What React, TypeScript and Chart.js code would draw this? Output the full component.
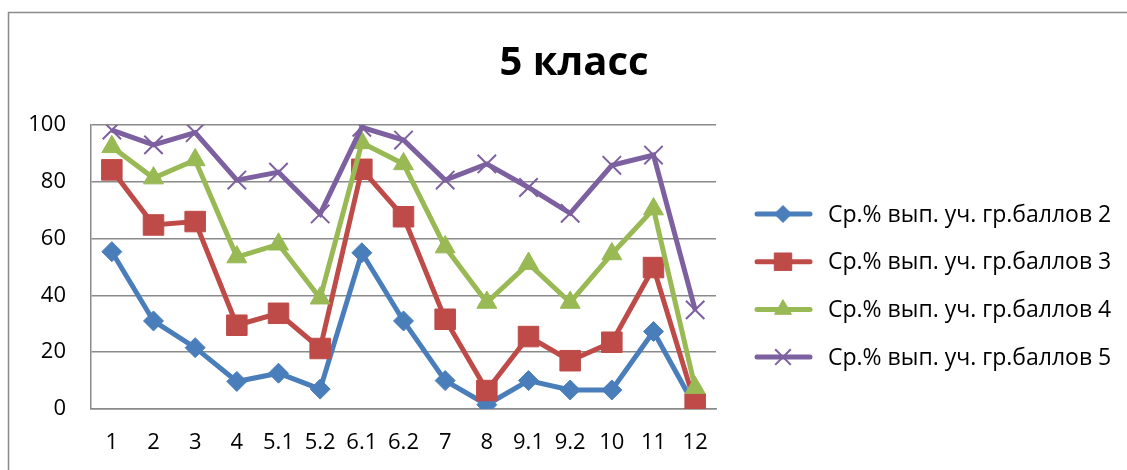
import React, { useEffect, useRef } from "react";
import { Chart, registerables } from "chart.js";
import { drawPoint } from "chart.js/helpers";

Chart.register(...registerables);

const categories = ["1", "2", "3", "4", "5.1", "5.2", "6.1", "6.2", "7", "8", "9.1", "9.2", "10", "11", "12"];
const series2 = [55.4, 31, 21.6, 9.7, 12.6, 7, 55, 31, 10, 1.5, 10, 6.7, 6.7, 27.3, 0.8];
const series3 = [84.2, 64.8, 66, 29.5, 33.7, 21.3, 84.4, 67.7, 31.6, 6.5, 25.5, 17, 23.5, 49.8, 1.8];
const series4 = [92.3, 81.3, 87.7, 53.5, 58, 39, 93.7, 86.3, 57, 37.5, 51.2, 37.5, 54.6, 70.4, 7.5];
const series5 = [98.2, 93, 97.3, 80.6, 83.4, 68.7, 99.2, 94.7, 80.6, 86.3, 78, 68.9, 85.8, 89.4, 34.9];
const seriesNames = [
  "Ср.% вып. уч. гр.баллов 2",
  "Ср.% вып. уч. гр.баллов 3",
  "Ср.% вып. уч. гр.баллов 4",
  "Ср.% вып. уч. гр.баллов 5",
];
const titleText = "5 класс";
const yTicks = [0, 20, 40, 60, 80, 100];

const FONT = "'Open Sans', 'Noto Sans', sans-serif";

const decorPlugin = {
  id: "decor",
  beforeDraw(chart: any) {
    const ctx = chart.ctx;
    ctx.save();
    ctx.strokeStyle = "#8a8a8a";
    ctx.lineWidth = 1.5;
    ctx.strokeRect(8.5, 12.5, 1400, 800);
    ctx.restore();
  },
  afterDraw(chart: any) {
    const ctx = chart.ctx;
    ctx.save();
    // title
    ctx.fillStyle = "#000";
    ctx.font = `bold 40px ${FONT}`;
    ctx.textAlign = "center";
    ctx.textBaseline = "middle";
    ctx.fillText(titleText, 574, 64);
    // legend
    const ds = chart.data.datasets;
    ds.forEach((d: any, k: number) => {
      const y = 214 + k * 47.7;
      ctx.strokeStyle = d.borderColor;
      ctx.lineWidth = 5;
      ctx.lineCap = "round";
      ctx.beginPath();
      ctx.moveTo(757, y);
      ctx.lineTo(810, y);
      ctx.stroke();
      ctx.lineCap = "butt";
      ctx.fillStyle = d.pointBackgroundColor;
      ctx.strokeStyle = d.pointBorderColor;
      ctx.lineWidth = d.pointBorderWidth;
      drawPoint(ctx, { pointStyle: d.pointStyle, rotation: 0, borderWidth: d.pointBorderWidth, radius: d.pointRadius * 0.85 }, 783, y);
      ctx.fillStyle = "#000";
      ctx.font = `23px ${FONT}`;
      ctx.textAlign = "left";
      ctx.textBaseline = "middle";
      ctx.fillText(d.label, 828, y + 1);
    });
    ctx.restore();
  },
};

export default function App() {
  const ref = useRef<HTMLCanvasElement>(null);
  useEffect(() => {
    if (!ref.current) return;
    const mk = (label: string, data: number[], color: string, style: string, radius: number, order: number, bw = 1) => ({
      label,
      data,
      borderColor: color,
      backgroundColor: color,
      pointBackgroundColor: color,
      pointBorderColor: color,
      pointBorderWidth: bw,
      pointStyle: style,
      pointRadius: radius,
      borderWidth: 5,
      tension: 0,
      order,
    });
    const chart = new Chart(ref.current, {
      type: "line",
      data: {
        labels: categories,
        datasets: [
          mk(seriesNames[0], series2, "#4A7EBB", "rectRot", 10, 3),
          mk(seriesNames[1], series3, "#BE4B48", "rect", 14.5, 2),
          mk(seriesNames[2], series4, "#98B954", "triangle", 11.5, 1),
          mk(seriesNames[3], series5, "#7D60A0", "crossRot", 13, 0, 2),
        ] as any,
      },
      options: {
        animation: false,
        responsive: false,
        events: [],
        layout: { padding: { left: 0, top: 125, right: 411, bottom: 0 } },
        plugins: {
          legend: { display: false },
          title: { display: false },
          tooltip: { enabled: false },
        },
        scales: {
          x: {
            offset: true,
            grid: { display: false, drawTicks: false },
            border: { display: true, color: "#8a8a8a", width: 1.5 },
            ticks: { color: "#000", font: { family: FONT, size: 22 }, padding: 21, maxRotation: 0, autoSkip: false },
            afterFit: (s: any) => { s.height = 61; },
          },
          y: {
            min: 0,
            max: 100,
            afterBuildTicks: (s: any) => { s.ticks = yTicks.map((v) => ({ value: v })); },
            grid: { color: "#8a8a8a", lineWidth: 1.5, drawTicks: false },
            border: { display: true, color: "#8a8a8a", width: 1.5 },
            ticks: { color: "#000", font: { family: FONT, size: 22 }, padding: 25 },
            afterFit: (s: any) => { s.width = 91; },
          },
        },
      },
      plugins: [decorPlugin],
    });
    return () => chart.destroy();
  }, []);
  return (
    <div style={{ position: "absolute", left: 0, top: 0, width: 1127, height: 470, background: "#fff" }}>
      <canvas ref={ref} width={1127} height={470} style={{ display: "block" }} />
    </div>
  );
}
